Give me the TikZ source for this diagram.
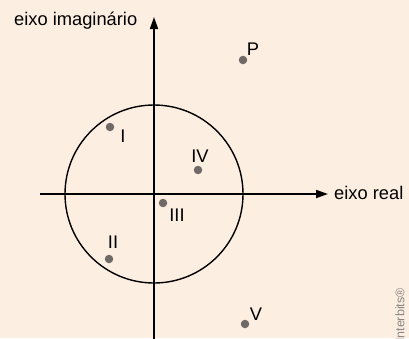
\documentclass[tikz,border=0pt]{standalone}
\usepackage{fontspec}
\setmainfont{Liberation Sans}
\usetikzlibrary{arrows.meta}
\definecolor{bg}{HTML}{FDEEE2}
\definecolor{dotc}{HTML}{6F6A66}
\definecolor{wmc}{HTML}{8A8784}
\begin{document}
\begin{tikzpicture}[x=1pt,y=-1pt,
  axis/.style={line width=1.8pt,-{Triangle[length=12pt,width=8pt]}},
  pt/.style={circle,fill=dotc,inner sep=0pt,minimum size=8.5pt},
  lbl/.style={font=\fontsize{18.3}{18.3}\selectfont,inner sep=0pt}]
\fill[bg] (0,0) rectangle (409,338);
\useasboundingbox (0,0) rectangle (409,338);
\coordinate (O) at (154,194);
\coordinate (xs) at (40,194);
\coordinate (xe) at (328,194);
\coordinate (ys) at (154,340);
\coordinate (ye) at (154,17);
\draw[axis] (xs) -- (xe);
\draw[axis] (ys) -- (ye);
\draw[line width=1.4pt] (O) circle[radius=89];
\node[lbl,anchor=west] (xl) at (334,193) {eixo real};
\node[lbl,anchor=west] (yl) at (14,21) {eixo imaginário};
\node[pt] (P) at (243,60) {};
\node[lbl] (Pl) at (253,49) {P};
\node[pt] (I) at (110,127) {};
\node[lbl] (Il) at (123,136) {I};
\node[pt] (IV) at (198,170) {};
\node[lbl] (IVl) at (200,156) {IV};
\node[pt] (III) at (163,203) {};
\node[lbl] (IIIl) at (177,215) {III};
\node[pt] (II) at (109,259) {};
\node[lbl] (IIl) at (113,242) {II};
\node[pt] (V) at (245,324) {};
\node[lbl] (Vl) at (256,314) {V};
\node[rotate=90,anchor=east,inner sep=0pt,text=wmc,font=\fontsize{12.5}{12.5}\selectfont] (wm) at (400,288) {Interbits®};
\end{tikzpicture}
\end{document}
